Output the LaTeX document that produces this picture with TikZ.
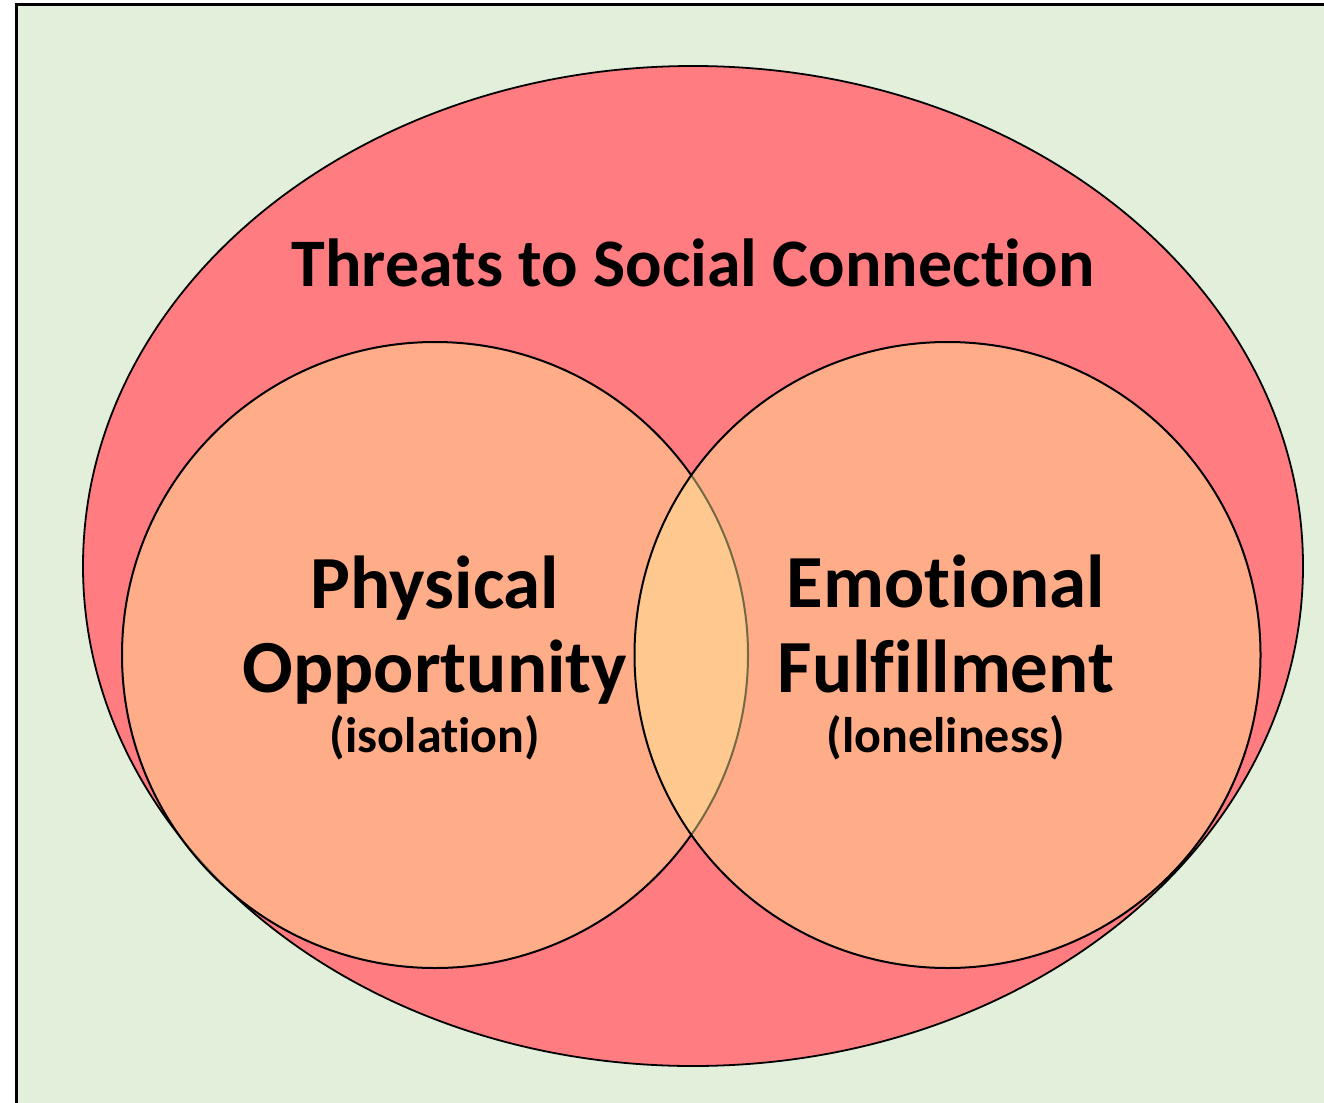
\documentclass[tikz,border=0pt]{standalone}
\usepackage{fontspec}
\setmainfont{Carlito}[Ligatures={NoCommon}]
\definecolor{bgGreen}{RGB}{226,239,218}
\definecolor{threatRed}{RGB}{255,124,128}
\definecolor{circFill}{RGB}{255,233,150}
\begin{document}
\begin{tikzpicture}[x=1pt,y=-1pt,
  frame/.style={fill=bgGreen,draw=black,line width=3pt},
  outer/.style={fill=threatRed,draw=black,line width=1.8pt},
  venn/.style={fill=circFill,fill opacity=0.45,draw=black,draw opacity=1,line width=2pt},
  titletxt/.style={font=\bfseries\fontsize{68}{80}\selectfont,anchor=base,inner sep=0pt},
  bigtxt/.style={font=\bfseries\fontsize{75}{90}\selectfont,anchor=base,inner sep=0pt},
  subtxt/.style={font=\bfseries\fontsize{50}{58}\selectfont,anchor=base,inner sep=0pt}]
\useasboundingbox (0,0) rectangle (1324,1102);
\draw[frame] (16,5) rectangle (1340,1120);
\draw[outer] (693,566) ellipse [x radius=610, y radius=500];
\draw[venn] (435,655) circle [radius=313];
\draw[venn] (947.5,655) circle [radius=313];
\node[titletxt] (title) at (693,286) {Threats to Social Connection};
\node[bigtxt] (phys) at (435,608) {Physical};
\node[bigtxt] (opp) at (435,692) {Opportunity};
\node[subtxt] (iso) at (435,752) {(isolation)};
\node[bigtxt] (emo) at (946,607) {Emotional};
\node[bigtxt] (ful) at (946,692) {Fulfillment};
\node[subtxt] (lone) at (946,752) {(loneliness)};
\end{tikzpicture}
\end{document}
